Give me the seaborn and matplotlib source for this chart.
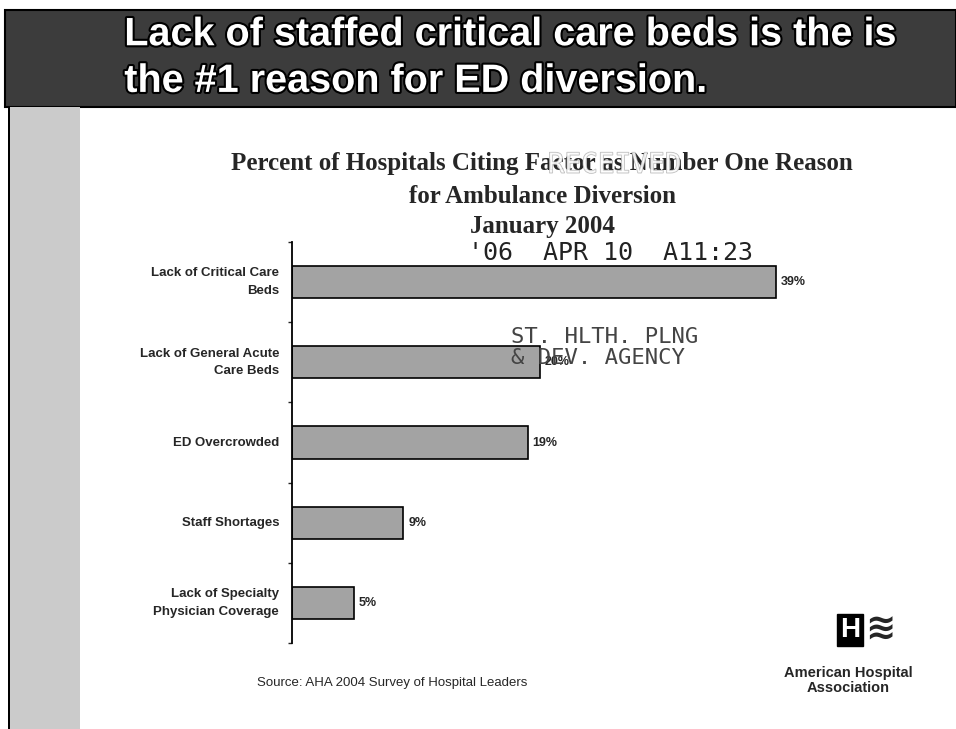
import matplotlib
matplotlib.use('Agg')
import matplotlib.pyplot as plt
import matplotlib.patheffects as pe
from matplotlib.patches import Rectangle
import seaborn as sns
import pandas as pd

# data
reasons = ['Lack of Critical Care\nBeds', 'Lack of General Acute\nCare Beds', 'ED Overcrowded',
           'Staff Shortages', 'Lack of Specialty\nPhysician Coverage']
percents = [39, 20, 19, 9, 5]
value_labels = ['39%', '20%', '19%', '9%', '5%']

df = pd.DataFrame({'reason': reasons, 'pct': percents})

sns.set_style('white')
plt.rcParams['font.family'] = ['Liberation Sans', 'DejaVu Sans']

fig = plt.figure(figsize=(9.56, 7.29), dpi=100)

# slide background: dark header band + textured left strip
fig.patches.append(Rectangle((0.005, 0.853), 0.995, 0.133, transform=fig.transFigure,
                             facecolor='#3c3c3c', edgecolor='black', lw=1.5, zorder=0))
fig.patches.append(Rectangle((0.009, 0.0), 0.075, 0.853, transform=fig.transFigure,
                             facecolor='#cbcbcb', edgecolor='none', zorder=0))
fig.patches.append(Rectangle((0.008, 0.0), 0.002, 0.853, transform=fig.transFigure,
                             facecolor='black', edgecolor='none', zorder=0))

outline = [pe.withStroke(linewidth=3, foreground='black')]
fig.text(0.130, 0.953, 'Lack of staffed critical care beds is the is', color='white',
         fontsize=28.5, fontweight='bold', va='center', ha='left', path_effects=outline)
fig.text(0.130, 0.889, 'the #1 reason for ED diversion.', color='white',
         fontsize=28.5, fontweight='bold', va='center', ha='left', path_effects=outline)

ax = fig.add_axes([0.305, 0.118, 0.546, 0.550])
sns.barplot(data=df, y='reason', x='pct', orient='h', color='#a3a3a3',
            edgecolor='black', linewidth=1.2, width=0.4, ax=ax)
ax.set_xlim(0, 42)
ax.set_ylim(4.5, -0.5)
ax.set_xlabel('')
ax.set_ylabel('')
ax.set_xticks([])
ax.set_yticks([i - 0.5 for i in range(6)])
ax.set_yticklabels([])
ax.tick_params(axis='y', length=3, width=1, direction='out', left=True, pad=0)
for i, r in enumerate(reasons):
    ax.text(-1.0, i, r, ha='right', va='center', fontsize=9.5, fontweight='bold',
            linespacing=1.6)
for side in ['top', 'right', 'bottom']:
    ax.spines[side].set_visible(False)
ax.spines['left'].set_linewidth(1.3)
ax.spines['left'].set_color('black')

for i, (v, lab) in enumerate(zip(percents, value_labels)):
    ax.text(v + 0.4, i, lab, ha='left', va='center', fontsize=9, fontweight='bold')

# chart title, one line at a time
title_lines = ['Percent of Hospitals Citing Factor as Number One Reason',
               'for Ambulance Diversion', 'January 2004']
for ty, line in zip([0.776, 0.731, 0.689], title_lines):
    fig.text(0.567, ty, line, ha='center', va='center', fontsize=18, fontweight='bold',
             family='Liberation Serif')

# received stamp
fig.text(0.643, 0.774, 'RECEIVED', ha='center', va='center', fontsize=20,
         family='DejaVu Sans Mono', color='white', alpha=0.7,
         path_effects=[pe.withStroke(linewidth=0.9, foreground='#999999')])
fig.text(0.490, 0.653, "'06  APR 10  A11:23", ha='left', va='center', fontsize=18,
         family='DejaVu Sans Mono', color='#222222')
fig.text(0.535, 0.523, 'ST. HLTH. PLNG\n& DEV. AGENCY', ha='left', va='center', fontsize=16,
         family='DejaVu Sans Mono', color='#444444', linespacing=1.05)

# source + logo
fig.text(0.410, 0.063, 'Source: AHA 2004 Survey of Hospital Leaders', ha='center', va='center',
         fontsize=9.5)
fig.text(0.889, 0.136, 'H', ha='center', va='center', fontsize=20, fontweight='bold',
         color='white', bbox=dict(boxstyle='square,pad=0.1', facecolor='black', edgecolor='black'))
fig.text(0.905, 0.136, '≋', ha='left', va='center', fontsize=26, fontweight='bold')
fig.text(0.887, 0.066, 'American Hospital\nAssociation', ha='center', va='center',
         fontsize=10.5, fontweight='bold', linespacing=1.1)

fig.savefig('out.png', dpi=100)
